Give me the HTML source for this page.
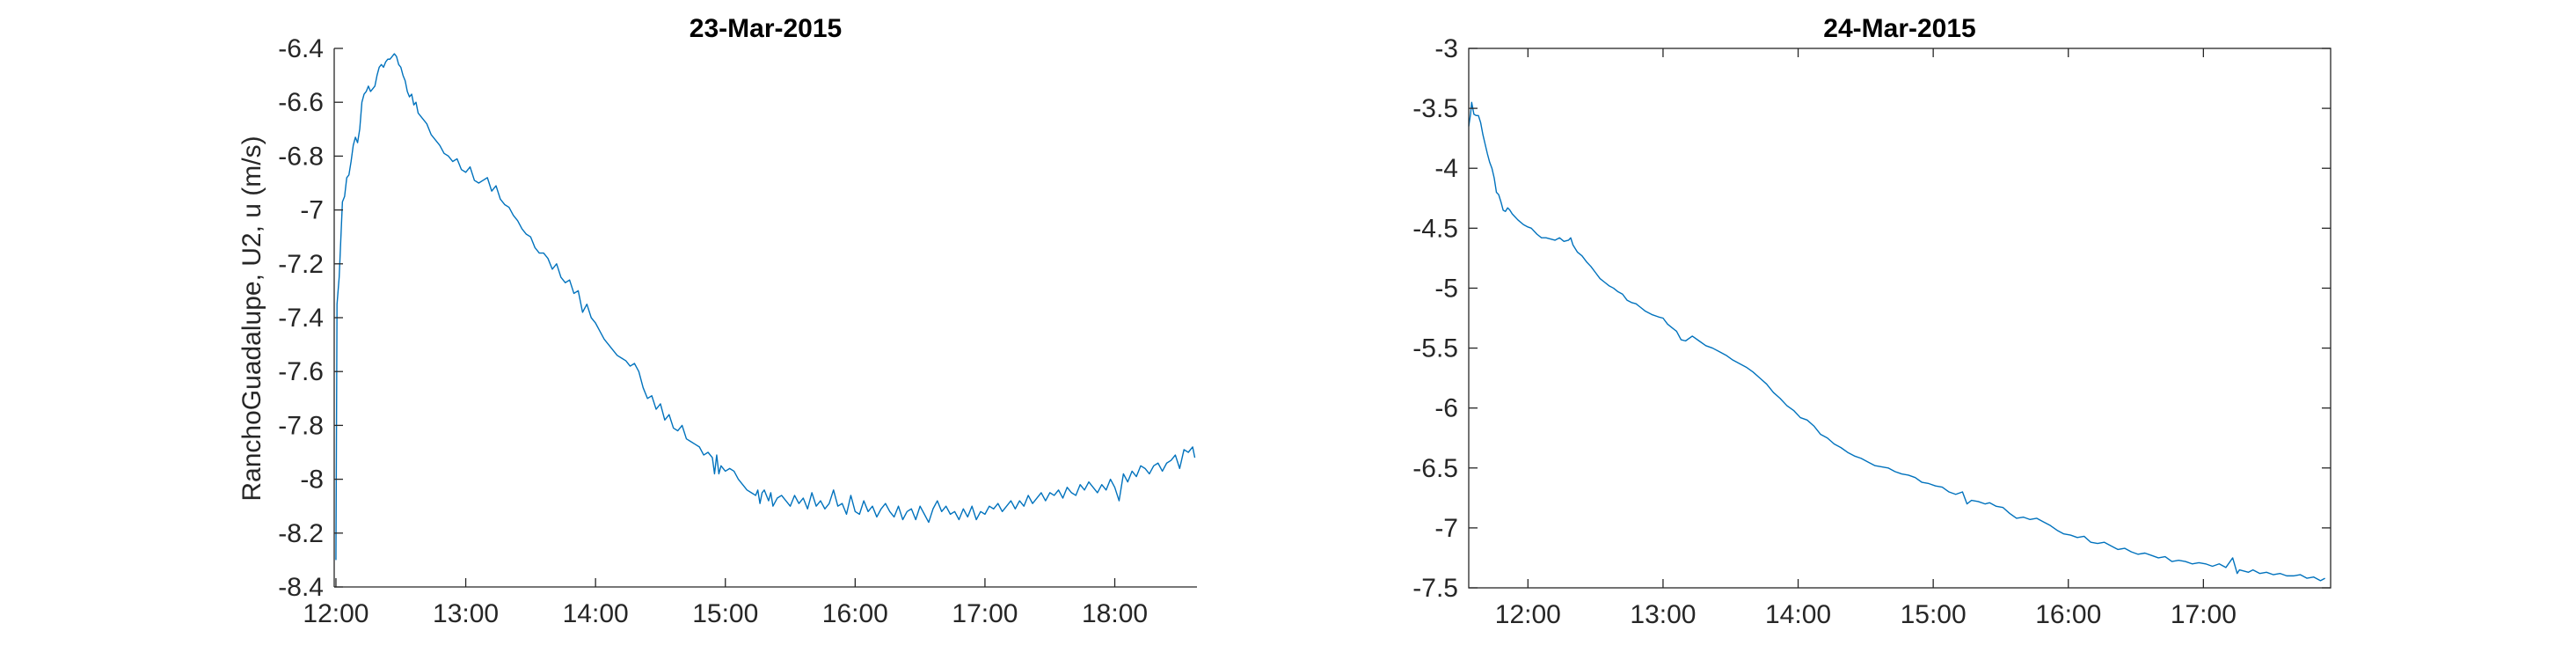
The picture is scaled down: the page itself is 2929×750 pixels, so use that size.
<!DOCTYPE html>
<html><head><meta charset="utf-8">
<style>
html,body{margin:0;padding:0;background:#fff;}
svg{display:block;font-family:"Liberation Sans",Arial,sans-serif;}
</style></head>
<body>
<svg id="fig" width="2929" height="750" viewBox="0 0 2929 750" xmlns="http://www.w3.org/2000/svg">
<rect x="0" y="0" width="2929" height="750" fill="#fff"/>
</svg>
<script>
// ---- Left chart data (minutes after 12:00, u m/s) ----
const leftTimes = [0,0.5,1.5,3,4,5,6,7,8,9,10,11,12,13,14,15,16,17,18,19,20,21,22,23,24,25,26,27,28,29,30,31,32,33,34,35,36,37,38,40,42,44,46,48,50,52,54,56,58,60,62,64,66,68,70,72,74,76,78,80,82,84,86,88,90,92,94,96,98,100,102,104,106,108,110,112,114,116,118,120,122,124,126,128,130,132,134,136,138,140,142,144,146,148,150,152,154,156,158,160,162,164,166,168,170,172,174,175,176,177,178,180,182,184,186,188,190,192,194,195,196,197,198,200,201,202,204,206,208,210,212,214,216,218,220,222,224,226,228,230,232,234,236,238,240,242,244,246,248,250,252,254,256,258,260,262,264,266,268,270,272,274,276,278,280,282,284,286,288,290,292,294,296,298,300,302,304,306,308,310,312,314,316,318,320,322,324,326,328,330,332,334,336,338,340,342,344,346,348,350,352,354,356,358,360,362,364,366,368,370,372,374,376,378,380,382,384,386,388,390,392,394,396,397];
const leftValues = [-8.3,-7.35,-7.25,-6.97,-6.95,-6.88,-6.87,-6.82,-6.76,-6.73,-6.75,-6.7,-6.6,-6.57,-6.56,-6.54,-6.56,-6.55,-6.54,-6.5,-6.47,-6.46,-6.47,-6.45,-6.44,-6.44,-6.43,-6.42,-6.43,-6.46,-6.47,-6.5,-6.52,-6.56,-6.58,-6.57,-6.61,-6.6,-6.64,-6.66,-6.68,-6.72,-6.74,-6.76,-6.79,-6.8,-6.82,-6.81,-6.85,-6.86,-6.84,-6.89,-6.9,-6.89,-6.88,-6.93,-6.91,-6.96,-6.98,-6.99,-7.02,-7.04,-7.07,-7.09,-7.1,-7.14,-7.16,-7.16,-7.18,-7.22,-7.2,-7.25,-7.27,-7.26,-7.31,-7.3,-7.38,-7.35,-7.4,-7.42,-7.45,-7.48,-7.5,-7.52,-7.54,-7.55,-7.56,-7.58,-7.57,-7.6,-7.66,-7.7,-7.69,-7.74,-7.72,-7.78,-7.76,-7.81,-7.82,-7.8,-7.85,-7.86,-7.87,-7.88,-7.91,-7.9,-7.92,-7.98,-7.91,-7.98,-7.95,-7.97,-7.96,-7.97,-8.0,-8.02,-8.04,-8.05,-8.06,-8.04,-8.09,-8.05,-8.04,-8.08,-8.05,-8.1,-8.07,-8.06,-8.08,-8.1,-8.06,-8.09,-8.07,-8.11,-8.05,-8.1,-8.08,-8.11,-8.09,-8.04,-8.1,-8.09,-8.13,-8.06,-8.12,-8.13,-8.08,-8.12,-8.1,-8.14,-8.11,-8.09,-8.12,-8.14,-8.1,-8.15,-8.12,-8.11,-8.15,-8.1,-8.13,-8.16,-8.11,-8.08,-8.12,-8.1,-8.13,-8.12,-8.15,-8.11,-8.14,-8.1,-8.15,-8.12,-8.13,-8.1,-8.11,-8.09,-8.12,-8.1,-8.08,-8.11,-8.08,-8.1,-8.06,-8.09,-8.07,-8.05,-8.08,-8.05,-8.06,-8.04,-8.07,-8.03,-8.05,-8.06,-8.02,-8.04,-8.01,-8.03,-8.05,-8.02,-8.04,-8.0,-8.03,-8.08,-7.98,-8.01,-7.97,-7.99,-7.95,-7.96,-7.98,-7.95,-7.94,-7.97,-7.94,-7.93,-7.91,-7.96,-7.89,-7.9,-7.88,-7.92];
const leftYTicks = [-6.4,-6.6,-6.8,-7,-7.2,-7.4,-7.6,-7.8,-8,-8.2,-8.4];
const leftYTickLabels = ["-6.4","-6.6","-6.8","-7","-7.2","-7.4","-7.6","-7.8","-8","-8.2","-8.4"];
const leftXTicks = [0,60,120,180,240,300,360];
const leftXTickLabels = ["12:00","13:00","14:00","15:00","16:00","17:00","18:00"];

// ---- Right chart data (minutes after 12:00, u m/s) ----
const rightTimes = [-26.3,-25.5,-25,-24,-23,-22,-21,-20,-19,-18,-17,-16,-15,-14,-13,-12,-11,-10,-9,-8,-7,-6,-4.5,-2,0,1.5,4,6,8,10,12,14,16,18,19,20,22,24,26,28,30,32,34,36,38,40,42,44,46,48,50,52,55,58,60,62,64,66,68,70,73,76,79,82,85,88,91,94,97,100,103,106,109,112,115,118,121,124,127,130,133,136,139,142,145,148,151,154,157,160,163,166,169,172,175,178,181,184,187,190,193,195,197,200,203,205,208,211,214,217,220,223,226,229,232,235,238,241,244,247,250,253,256,259,262,265,268,271,274,277,280,283,286,289,292,295,298,301,304,307,310,313,315,316,318,320,322,325,328,331,334,337,340,343,346,349,352,354,356];
const rightValues = [-3.65,-3.55,-3.45,-3.55,-3.56,-3.56,-3.62,-3.72,-3.8,-3.88,-3.95,-4.0,-4.08,-4.2,-4.22,-4.28,-4.35,-4.36,-4.33,-4.35,-4.38,-4.4,-4.43,-4.47,-4.49,-4.5,-4.55,-4.58,-4.58,-4.59,-4.6,-4.58,-4.61,-4.6,-4.58,-4.64,-4.7,-4.73,-4.78,-4.82,-4.87,-4.92,-4.95,-4.98,-5.0,-5.03,-5.05,-5.1,-5.12,-5.13,-5.16,-5.19,-5.22,-5.24,-5.25,-5.3,-5.33,-5.36,-5.43,-5.44,-5.4,-5.44,-5.48,-5.5,-5.53,-5.56,-5.6,-5.63,-5.66,-5.7,-5.75,-5.8,-5.87,-5.92,-5.98,-6.02,-6.08,-6.1,-6.15,-6.22,-6.25,-6.3,-6.33,-6.37,-6.4,-6.42,-6.45,-6.48,-6.49,-6.5,-6.53,-6.55,-6.56,-6.58,-6.62,-6.63,-6.65,-6.66,-6.7,-6.72,-6.7,-6.8,-6.77,-6.78,-6.8,-6.79,-6.82,-6.83,-6.88,-6.92,-6.91,-6.93,-6.92,-6.95,-6.98,-7.02,-7.05,-7.06,-7.08,-7.07,-7.12,-7.13,-7.12,-7.15,-7.18,-7.17,-7.2,-7.22,-7.21,-7.23,-7.25,-7.24,-7.28,-7.27,-7.28,-7.3,-7.29,-7.3,-7.32,-7.3,-7.33,-7.25,-7.38,-7.35,-7.36,-7.37,-7.35,-7.38,-7.37,-7.39,-7.38,-7.4,-7.4,-7.39,-7.42,-7.41,-7.44,-7.42];
const rightYTicks = [-3,-3.5,-4,-4.5,-5,-5.5,-6,-6.5,-7,-7.5];
const rightYTickLabels = ["-3","-3.5","-4","-4.5","-5","-5.5","-6","-6.5","-7","-7.5"];
const rightXTicks = [0,60,120,180,240,300];
const rightXTickLabels = ["12:00","13:00","14:00","15:00","16:00","17:00"];

const NS = "http://www.w3.org/2000/svg";
const svg = document.getElementById('fig');
function mk(tag, attrs, parent){
  const e = document.createElementNS(NS, tag);
  for (const k in attrs) e.setAttribute(k, attrs[k]);
  (parent||svg).appendChild(e);
  return e;
}
const AX = "#262626";

function drawChart(cfg, times, values, yTicks, yLabels, xTicks, xLabels){
  const g = mk('g', {});
  
  
  const sx = t => cfg.x0 + (t - cfg.tmin) / (cfg.tmax - cfg.tmin) * (cfg.x1 - cfg.x0);
  const sy = v => cfg.y0 + (cfg.vmax - v) / (cfg.vmax - cfg.vmin) * (cfg.y1 - cfg.y0);

  // data line
  let d = '';
  for (let i = 0; i < times.length; i++) d += (i ? 'L' : 'M') + sx(times[i]).toFixed(2) + ' ' + sy(values[i]).toFixed(2);
  const line = mk('path', {d: d, fill: 'none', stroke: '#0072BD', 'stroke-width': 1.4, 'stroke-linejoin': 'round'}, g);
  
  

  // axes
  if (cfg.box) {
    const box = mk('rect', {x: cfg.x0, y: cfg.y0, width: cfg.x1 - cfg.x0, height: cfg.y1 - cfg.y0, fill: 'none', stroke: AX, 'stroke-width': 1.3}, g);
    
    
  } else {
    const ya = mk('line', {x1: cfg.x0, y1: cfg.y0, x2: cfg.x0, y2: cfg.y1, stroke: AX, 'stroke-width': 1.3}, g);
    
    
    const xa = mk('line', {x1: cfg.x0, y1: cfg.y1, x2: cfg.x1, y2: cfg.y1, stroke: AX, 'stroke-width': 1.3}, g);
    
    
  }
  const TL = 10;
  yTicks.forEach((v, i) => {
    const y = sy(v);
    mk('line', {x1: cfg.x0, y1: y, x2: cfg.x0 + TL, y2: y, stroke: AX, 'stroke-width': 1.3}, g);
    if (cfg.box) mk('line', {x1: cfg.x1, y1: y, x2: cfg.x1 - TL, y2: y, stroke: AX, 'stroke-width': 1.3}, g);
    const t = mk('text', {x: cfg.x0 - 12, y: y + 10, 'text-anchor': 'end', 'font-size': 30, fill: AX}, g);
    t.textContent = yLabels[i];
    
    
  });
  xTicks.forEach((tv, i) => {
    const x = sx(tv);
    mk('line', {x1: x, y1: cfg.y1, x2: x, y2: cfg.y1 - TL, stroke: AX, 'stroke-width': 1.3}, g);
    if (cfg.box) mk('line', {x1: x, y1: cfg.y0, x2: x, y2: cfg.y0 + TL, stroke: AX, 'stroke-width': 1.3}, g);
    const t = mk('text', {x: x, y: cfg.y1 + 40, 'text-anchor': 'middle', 'font-size': 30, fill: AX}, g);
    t.textContent = xLabels[i];
    
    
  });
  const title = mk('text', {x: (cfg.x0 + cfg.x1) / 2, y: 42, 'text-anchor': 'middle', 'font-size': 30, 'font-weight': 'bold', fill: '#000'}, g);
  title.textContent = cfg.title;
  
  
  if (cfg.ylabel) {
    const yl = mk('text', {x: 0, y: 0, 'text-anchor': 'middle', 'font-size': 30, fill: AX, transform: 'translate(296,362) rotate(-90)'}, g);
    yl.textContent = cfg.ylabel;
    
    
  }
}

drawChart({name: 'chart-23-mar-2015', x0: 380, x1: 1361, y0: 55, y1: 667, tmin: -0.8, tmax: 398, vmin: -8.4, vmax: -6.4, box: false, title: '23-Mar-2015', ylabel: 'RanchoGuadalupe, U2, u (m/s)'},
  leftTimes, leftValues, leftYTicks, leftYTickLabels, leftXTicks, leftXTickLabels);
drawChart({name: 'chart-24-mar-2015', x0: 1670, x1: 2650, y0: 55, y1: 668, tmin: -26.3, tmax: 356.5, vmin: -7.5, vmax: -3, box: true, title: '24-Mar-2015'},
  rightTimes, rightValues, rightYTicks, rightYTickLabels, rightXTicks, rightXTickLabels);
</script>
</body></html>
